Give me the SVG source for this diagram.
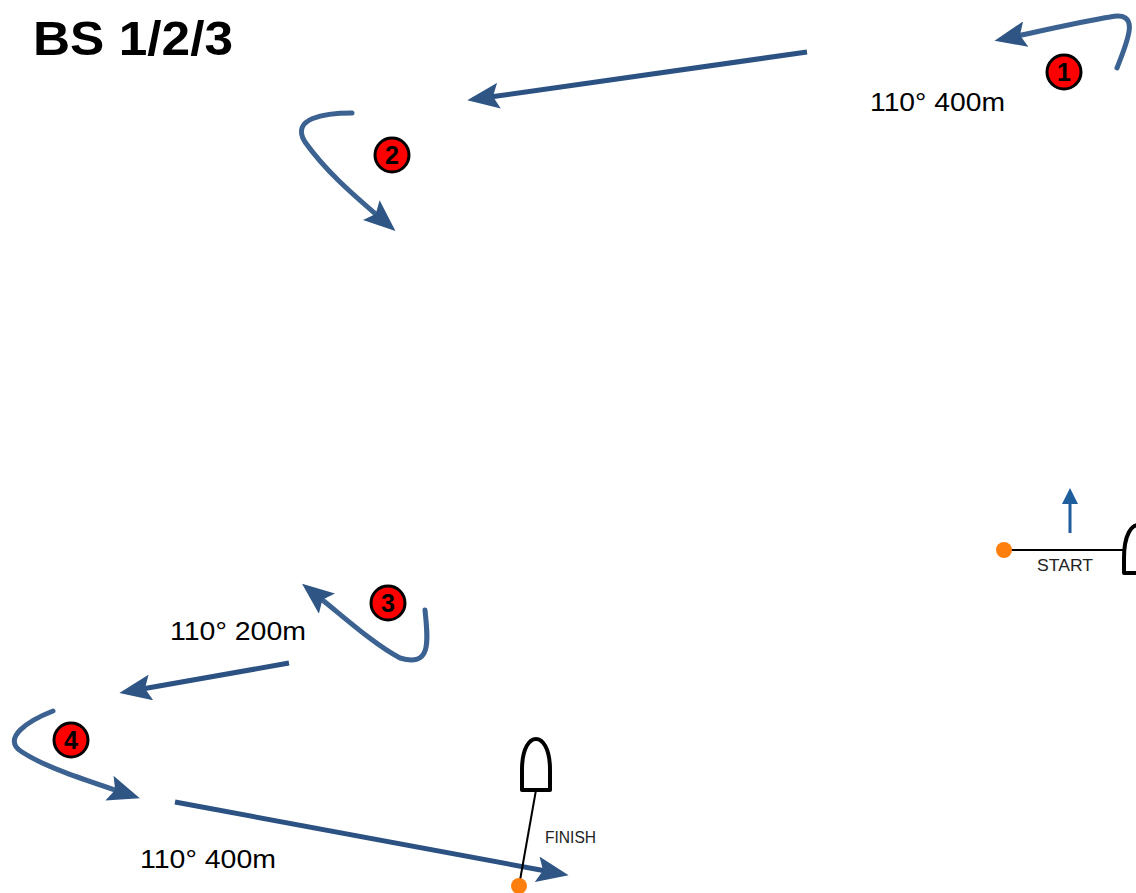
<svg xmlns="http://www.w3.org/2000/svg" width="1136" height="893" viewBox="0 0 1136 893">
<style>
.route{fill:none;stroke:#3b6290;stroke-width:5;stroke-linecap:round}
.leg{fill:none;stroke:#2c5283;stroke-width:5}
.badge circle{fill:#ff0000;stroke:#000;stroke-width:3}
.badge text{font-family:"Liberation Sans",Arial,sans-serif;font-weight:bold;font-size:25px;fill:#000;text-anchor:middle}
.lbl{font-family:"Liberation Sans",Arial,sans-serif;font-size:25px;fill:#000}
.small{font-family:"Liberation Sans",Arial,sans-serif;font-size:16px;fill:#222}
.boat{fill:#fff;stroke:#000;stroke-width:4;stroke-linejoin:round}
</style>
<defs>
<marker id="ah" viewBox="0 0 32 26" refX="9" refY="13" markerWidth="32" markerHeight="26" markerUnits="userSpaceOnUse" orient="auto">
<path d="M0,0 L32,13 L0,26 L6,13 Z" fill="#2f5585"/>
</marker>
<marker id="ahs" viewBox="0 0 16 20" refX="2" refY="10" markerWidth="16" markerHeight="20" markerUnits="userSpaceOnUse" orient="auto">
<path d="M0,2 L16,10 L0,18 Z" fill="#1f5d9c"/>
</marker>
</defs>
<rect width="1136" height="893" fill="#fff"/>
<text x="33" y="55" font-family="'Liberation Sans',Arial,sans-serif" font-weight="bold" font-size="48" fill="#000" textLength="200" lengthAdjust="spacingAndGlyphs">BS 1/2/3</text>
<g id="connectors">
<path class="route" d="M1117,68 C1127,42 1142,10 1110,17 C1080,22 1045,30 1017,36" marker-end="url(#ah)"/>
<path class="leg" d="M807,52 L490,97" marker-end="url(#ah)"/>
<path class="route" d="M352,113 C325,113 290,118 305,142 C325,170 350,192 378,216" marker-end="url(#ah)"/>
<path class="route" d="M425,610 C428,640 432,668 400,658 C375,645 345,618 320,598" marker-end="url(#ah)"/>
<path class="leg" d="M289,663 L142,689" marker-end="url(#ah)"/>
<path class="route" d="M53,711 C30,720 0,738 22,752 C45,767 85,780 118,791" marker-end="url(#ah)"/>
<path class="leg" d="M175,802 L546,871" marker-end="url(#ah)"/>
<path d="M1070,533 L1070,502" stroke="#1f5d9c" stroke-width="3" fill="none" marker-end="url(#ahs)"/>
</g>
<g id="mark1" class="badge"><circle cx="1064" cy="72" r="17"/><text x="1064" y="81">1</text></g>
<g id="mark2" class="badge"><circle cx="392" cy="155" r="17"/><text x="392" y="164">2</text></g>
<g id="mark3" class="badge"><circle cx="388" cy="603" r="17"/><text x="388" y="612">3</text></g>
<g id="mark4" class="badge"><circle cx="71" cy="740" r="17"/><text x="71" y="749">4</text></g>
<g id="labels">
<text class="lbl" x="870" y="111" textLength="135" lengthAdjust="spacingAndGlyphs">110° 400m</text>
<text class="lbl" x="170" y="640" textLength="136" lengthAdjust="spacingAndGlyphs">110° 200m</text>
<text class="lbl" x="140" y="868" textLength="136" lengthAdjust="spacingAndGlyphs">110° 400m</text>
</g>
<g id="start">
<line x1="1004" y1="550" x2="1124" y2="550" stroke="#000" stroke-width="2"/>
<circle cx="1004" cy="550" r="8" fill="#ff7f0e"/>
<path class="boat" d="M1124,573 L1124,558 C1124,534 1132,525 1138,525 C1144,525 1152,534 1152,558 L1152,573 Z"/>
<text class="small" x="1037" y="571" textLength="56" lengthAdjust="spacingAndGlyphs">START</text>
</g>
<g id="finish">
<line x1="536" y1="790" x2="519" y2="886" stroke="#000" stroke-width="2"/>
<circle cx="519" cy="886" r="8" fill="#ff7f0e"/>
<path class="boat" d="M522,790 L522,770 C522,747 530,739 536,739 C542,739 550,747 550,770 L550,790 Z"/>
<text class="small" x="545" y="843" textLength="51" lengthAdjust="spacingAndGlyphs">FINISH</text>
</g>
</svg>
